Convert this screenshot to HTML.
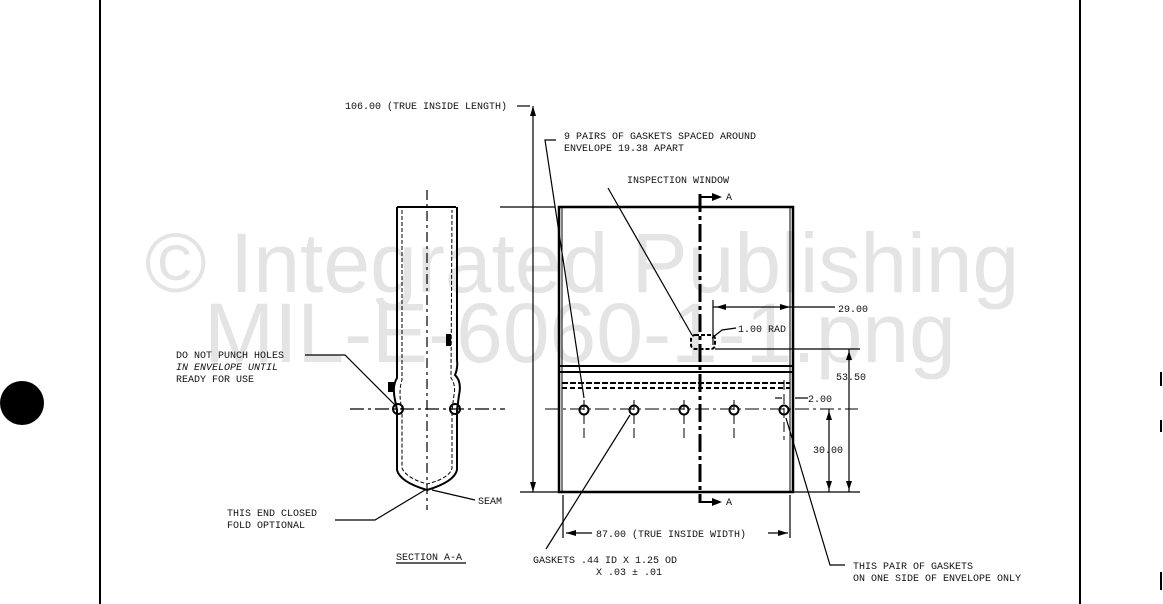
<!DOCTYPE html>
<html><head><style>
body{margin:0;background:#fff;}
svg{display:block;}
text{font-family:"Liberation Mono",monospace;font-size:10px;fill:#111;}
.wm{font-family:"Liberation Sans",sans-serif;fill:#e4e4e4;font-size:84px;}
</style></head><body>
<svg width="1163" height="604" viewBox="0 0 1163 604">
<rect width="1163" height="604" fill="#fff"/>
<text class="wm" x="582" y="292" text-anchor="middle">© Integrated Publishing</text>
<text class="wm" x="580" y="362" text-anchor="middle">MIL-E-6060-1-1.png</text>
<g stroke="#000" fill="none">
<line x1="100" y1="0" x2="100" y2="604" stroke-width="2"/>
<line x1="1080" y1="0" x2="1080" y2="604" stroke-width="2"/>
<line x1="1161" y1="372" x2="1161" y2="386" stroke-width="2"/>
<line x1="1161" y1="420" x2="1161" y2="432" stroke-width="2"/>
<line x1="1161" y1="572" x2="1161" y2="590" stroke-width="2"/>
</g>
<circle cx="22" cy="403" r="22" fill="#000"/>
<!-- section A-A -->
<g stroke="#000" fill="none" stroke-width="2">
<path d="M397 207 L456 207"/>
<path d="M397 207 L397 378 Q392 386 395 400 L397 410 L397 470 Q400 482 427 490 Q454 482 457 470 L457 410 L459 395 Q462 382 455 375 Q458 368 457 360 L457 207"/>
<path d="M402 210 L402 380 Q398 392 402 410 L402 468 Q406 478 427 484 Q450 478 452 468 L452 410 L454 395 Q456 385 451 378 L452 210" stroke-width="1" stroke-dasharray="4 2"/>
</g>
<rect x="388" y="382" width="6" height="10" fill="#000"/>
<rect x="446" y="334" width="5" height="12" fill="#000"/>
<circle cx="398" cy="409" r="5" fill="none" stroke="#000" stroke-width="2"/>
<circle cx="455" cy="409" r="5" fill="none" stroke="#000" stroke-width="2"/>
<g stroke="#000" fill="none" stroke-width="1.2">
<line x1="427" y1="190" x2="427" y2="510" stroke-dasharray="10 4 3 4"/>
<line x1="350" y1="409" x2="505" y2="409" stroke-dasharray="14 4 3 4"/>
<polyline points="305,355 345,355 395,405"/>
<polyline points="335,520 375,520 425,490"/>
<line x1="475" y1="500" x2="432" y2="490"/>
<line x1="396" y1="563" x2="466" y2="563"/>
</g>
<text x="176" y="358">DO NOT PUNCH HOLES</text>
<text x="176" y="370" font-style="italic">IN ENVELOPE UNTIL</text>
<text x="176" y="382">READY FOR USE</text>
<text x="227" y="516">THIS END CLOSED</text>
<text x="227" y="528">FOLD OPTIONAL</text>
<text x="478" y="504">SEAM</text>
<text x="396" y="560">SECTION A-A</text>
<!-- main view -->
<g stroke="#000" fill="none">
<rect x="559" y="207" width="234" height="285" stroke-width="2.5"/>
<line x1="562" y1="207" x2="562" y2="492" stroke-width="1"/>
<line x1="790" y1="207" x2="790" y2="492" stroke-width="1"/>
<line x1="559" y1="366" x2="793" y2="366" stroke-width="2"/>
<line x1="559" y1="372" x2="793" y2="372" stroke-width="2"/>
<line x1="562" y1="383" x2="790" y2="383" stroke-width="2" stroke-dasharray="6 2"/>
<line x1="562" y1="388" x2="790" y2="388" stroke-width="2" stroke-dasharray="5 3"/>
<line x1="700" y1="194" x2="700" y2="503" stroke-width="3" stroke-dasharray="18 4 4 4"/>
<polyline points="700,197 716,197" stroke-width="2"/>
<polyline points="700,502 716,502" stroke-width="2"/>
<line x1="545" y1="409" x2="858" y2="409" stroke-width="1" stroke-dasharray="14 4 3 4"/>
<g stroke-width="1" stroke-dasharray="10 4">
<line x1="584" y1="400" x2="584" y2="440"/><line x1="634" y1="400" x2="634" y2="440"/>
<line x1="684" y1="400" x2="684" y2="440"/><line x1="734" y1="400" x2="734" y2="440"/>
<line x1="784" y1="380" x2="784" y2="440"/>
</g>
<rect x="691" y="335" width="24" height="14" rx="4" stroke-width="2" stroke-dasharray="4 2"/>
<g stroke-width="1.2">
<polyline points="517,106 530,106"/>
<line x1="533" y1="106" x2="533" y2="492"/>
<line x1="500" y1="207" x2="555" y2="207"/>
<line x1="520" y1="492" x2="860" y2="492"/>
<line x1="713" y1="300" x2="713" y2="345"/>
<line x1="713" y1="307" x2="835" y2="307"/>
<line x1="715" y1="349" x2="860" y2="349"/>
<line x1="849" y1="349" x2="849" y2="492"/>
<line x1="829" y1="409" x2="829" y2="492"/>
<line x1="775" y1="398" x2="782" y2="398"/>
<line x1="795" y1="398" x2="808" y2="398"/>
<line x1="563" y1="495" x2="563" y2="538"/>
<line x1="790" y1="495" x2="790" y2="538"/>
<line x1="566" y1="533" x2="592" y2="533"/>
<line x1="768" y1="533" x2="788" y2="533"/>
<polyline points="556,140 545,140 584,398"/>
<line x1="608" y1="188" x2="692" y2="335"/>
<polyline points="736,328 722,330 712,338"/>
<line x1="546" y1="549" x2="630" y2="415"/>
<polyline points="845,565 830,565 786,418"/>
</g>
</g>
<g fill="#000">
<circle cx="584" cy="410" r="4.5" fill="none" stroke="#000" stroke-width="2"/>
<circle cx="634" cy="410" r="4.5" fill="none" stroke="#000" stroke-width="2"/>
<circle cx="684" cy="410" r="4.5" fill="none" stroke="#000" stroke-width="2"/>
<circle cx="734" cy="410" r="4.5" fill="none" stroke="#000" stroke-width="2"/>
<circle cx="784" cy="410" r="4.5" fill="none" stroke="#000" stroke-width="2"/>
<polygon points="722,197 712,193 712,201"/>
<polygon points="722,502 712,498 712,506"/>
<polygon points="716,307 726,304 726,310"/>
<polygon points="790,307 780,304 780,310"/>
<polygon points="849,351 846,360 852,360"/>
<polygon points="849,490 846,481 852,481"/>
<polygon points="829,411 826,420 832,420"/>
<polygon points="829,490 826,481 832,481"/>
<polygon points="566,533 576,530 576,536"/>
<polygon points="788,533 778,530 778,536"/>
<polygon points="533,106 530,116 536,116"/>
<polygon points="533,492 530,482 536,482"/>
</g>
<text x="345" y="109">106.00 (TRUE INSIDE LENGTH)</text>
<text x="564" y="139">9 PAIRS OF GASKETS SPACED AROUND</text>
<text x="564" y="151">ENVELOPE 19.38 APART</text>
<text x="627" y="183">INSPECTION WINDOW</text>
<text x="726" y="200">A</text>
<text x="726" y="505">A</text>
<text x="838" y="312">29.00</text>
<text x="738" y="332">1.00 RAD</text>
<text x="836" y="380">53.50</text>
<text x="808" y="402">2.00</text>
<text x="813" y="453">30.00</text>
<text x="596" y="537">87.00 (TRUE INSIDE WIDTH)</text>
<text x="533" y="563">GASKETS .44 ID X 1.25 OD</text>
<text x="596" y="575">X .03 ± .01</text>
<text x="853" y="569">THIS PAIR OF GASKETS</text>
<text x="853" y="581">ON ONE SIDE OF ENVELOPE ONLY</text>
</svg>
</body></html>
